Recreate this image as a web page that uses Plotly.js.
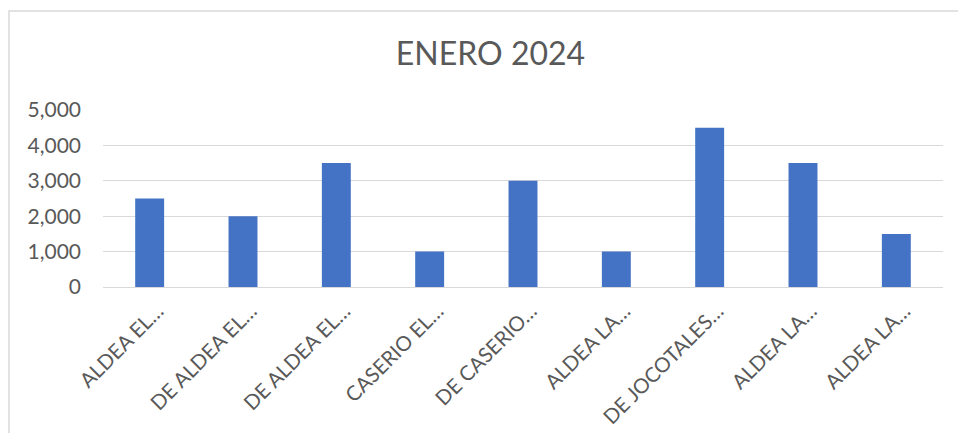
<!DOCTYPE html>
<html>
<head>
<meta charset="utf-8">
<script src="https://cdn.plot.ly/plotly-3.0.1.min.js"></script>
<style>
html,body{margin:0;padding:0;background:#fff;}
#chart{width:958px;height:433px;}
</style>
</head>
<body>
<div id="chart"></div>
<script>
const categories = [
  "ALDEA EL…",
  "DE ALDEA EL…",
  "DE ALDEA EL…",
  "CASERIO EL…",
  "DE CASERIO…",
  "ALDEA LA…",
  "DE JOCOTALES…",
  "ALDEA LA…",
  "ALDEA LA…"
];
const values = [2500, 2000, 3500, 1000, 3000, 1000, 4500, 3500, 1500];
const yTicks = [0, 1000, 2000, 3000, 4000, 5000];
const yTickText = ["0", "1,000", "2,000", "3,000", "4,000", "5,000"];
const chartTitle = "ENERO 2024";

const xIdx = categories.map((c, i) => i);

const font = "Lato, 'Open Sans', sans-serif";
const trace = {
  type: "bar",
  x: xIdx,
  y: values,
  marker: {color: "#4472C4"},
  hoverinfo: "y"
};

const layout = {
  width: 958,
  height: 433,
  paper_bgcolor: "#fff",
  plot_bgcolor: "#fff",
  margin: {l: 103, r: 15, t: 110, b: 146},
  bargap: 0.69,
  showlegend: false,
  title: {
    text: chartTitle,
    font: {family: font, size: 32, color: "#595959"},
    x: 0.512, xanchor: "center",
    y: 0.875, yanchor: "middle"
  },
  xaxis: {
    tickmode: "array",
    tickvals: xIdx,
    ticktext: categories,
    range: [-0.5, categories.length - 0.5],
    tickangle: -45,
    tickfont: {family: font, size: 20.5, color: "#595959"},
    ticklabelshift: 8,
    ticklabelstandoff: 3,
    showgrid: false,
    showline: true,
    linecolor: "#d9d9d9",
    linewidth: 1,
    ticks: "",
    zeroline: false,
    fixedrange: true
  },
  yaxis: {
    range: [0, 5000],
    tickmode: "array",
    tickvals: yTicks,
    ticktext: yTickText,
    tickfont: {family: font, size: 21, color: "#595959"},
    showgrid: true,
    gridcolor: "#d9d9d9",
    gridwidth: 1,
    zeroline: false,
    showline: false,
    ticks: "",
    ticklabelstandoff: 21,
    fixedrange: true
  },
  shapes: [{
    type: "rect",
    xref: "paper", yref: "paper",
    x0: -94 / 840, x1: 1.1,
    y0: -1.2, y1: 1 + 99 / 177,
    line: {color: "#d9d9d9", width: 1.5},
    fillcolor: "rgba(0,0,0,0)",
    layer: "below"
  }]
};

Plotly.newPlot("chart", [trace], layout, {displayModeBar: false, staticPlot: true});
</script>
</body>
</html>
